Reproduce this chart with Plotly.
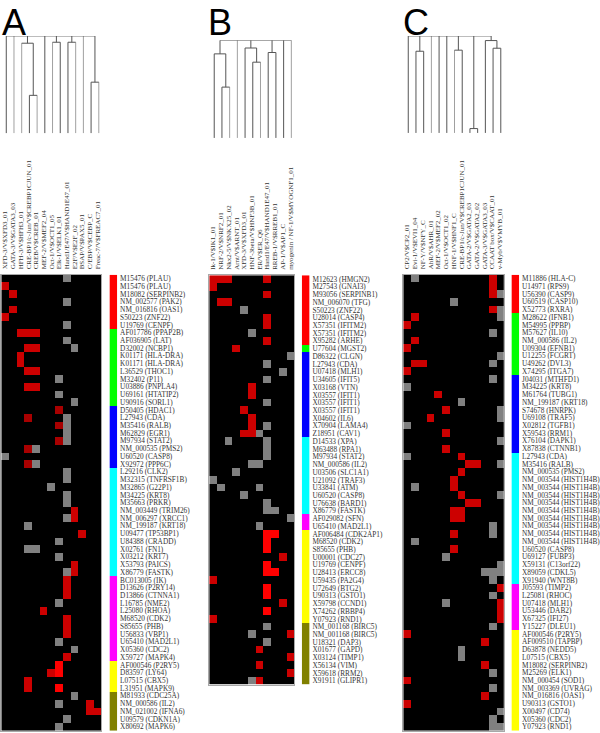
import plotly.graph_objects as go

W, H = 600, 733

GROUP_COLORS = ["#ff0000", "#00ff00", "#0000ff", "#00ffff", "#ff00ff", "#ffff00", "#808000"]
# cell codes: 0 none, 1 gray, 2 red, 3 bright red, 4 dark red
CELL_COLORS = ["#000000", "#808080", "#cc0000", "#ff0000", "#a80000"]

A_columns = ["XFD-3/V$XFD3_01", "GATA-3/V$GATA3_03", "HFH-3/V$HFH3_01", "CRE-BP1/c-Jun/V$CREBP1CJUN_01",
             "CREB/V$CREB_01", "MEF-2/V$MEF2_04", "Oct-1/V$OCT1_05", "Elk-1/V$ELK1_01",
             "Hand1/E47/V$HAND1E47_01", "E2F/V$E2F_02", "BSAP/V$PAX5_01", "C/EBP/V$CEBP_C", "Freac-7/V$FREAC7_01"]
A_genes = ["M15476 (PLAU)", "M15476 (PLAU)", "M18082 (SERPINB2)", "NM_002577 (PAK2)", "NM_016816 (OAS1)", "S50223 (ZNF22)", "U19769 (CENPF)",
           "AF017786 (PPAP2B)", "AF036905 (LAT)", "D32002 (NCBP1)", "K01171 (HLA-DRA)", "K01171 (HLA-DRA)", "L36529 (THOC1)", "M32402 (P11)", "U03886 (PNPLA4)", "U69161 (HTATIP2)", "U90916 (SORL1)",
           "D50405 (HDAC1)", "L27943 (CDA)", "M35416 (RALB)", "M62829 (EGR1)", "M97934 (STAT2)", "NM_000535 (PMS2)", "U60520 (CASP8)", "X92972 (PPP6C)",
           "L29216 (CLK2)", "M32315 (TNFRSF1B)", "M32865 (G22P1)", "M34225 (KRT8)", "M35663 (PRKR)", "NM_003449 (TRIM26)", "NM_006297 (XRCC1)", "NM_199187 (KRT18)", "U09477 (TP53BP1)", "U84388 (CRADD)", "X02761 (FN1)", "X03212 (KRT7)", "X53793 (PAICS)", "X86779 (FASTK)",
           "BC013005 (IK)", "D13626 (P2RY14)", "D13866 (CTNNA1)", "L16785 (NME2)", "L25080 (RHOA)", "M68520 (CDK2)", "S85655 (PHB)", "U56833 (VBP1)", "U65410 (MAD2L1)", "X05360 (CDC2)", "X59727 (MAPK4)",
           "AF000546 (P2RY5)", "D83597 (LY64)", "L07515 (CBX5)", "L31951 (MAPK9)",
           "M81933 (CDC25A)", "NM_000586 (IL2)", "NM_021002 (IFNA6)", "U09579 (CDKN1A)", "X80692 (MAPK6)"]
A_group_sizes = [7, 10, 8, 14, 11, 4, 5]
A_cells = ["0000000010000", "2000000000000", "0200000000000", "0000000010000", "0200000000000", "2000000000000",
           "0000000010000", "0022200000000", "0000000010000", "0002200001000", "0020000000000", "0020000000000",
           "0002200000000", "0000000100000", "0002200000000", "0000000100000", "0000000001000", "0000000400000",
           "0004000010000", "0000000410000", "0000000010000", "0000000410000", "0004100000000", "1000000000000",
           "0004100000000", "0000000010000", "0000000010000", "0000001000000", "0000000010000", "0000000010000",
           "0000000002000", "0000000012000", "0001000000000", "0000000000200", "0000000100000", "0001100000000",
           "0000000100000", "0000000002000", "0000000012000", "0000000020000", "0000000020000", "0000000020000",
           "0000000100000", "0000020000000", "0000000020000", "0000000020000", "0000000020000", "0000000100000",
           "0000000001000", "0000000020000", "0000000300000", "0000002300000", "0002000000000", "0002000300000",
           "0000000001000", "0000000100020", "0000000000022", "0000000010000", "0000000100000"]
# merges: (child, child, height); new nodes numbered after the leaves; unmerged nodes hang from the root
A_merges = [(3, 4, 39), (2, 13, 92.5), (6, 7, 93.5), (8, 9, 93.5), (11, 12, 52.5)]
A_gray_leaves = [1, 2, 4, 6, 9, 10, 12]

B_columns = ["Ik-1/V$IK1_01", "NRF-2/V$NRF2_01", "Nkx2-5/V$NKX25_02", "Arnt/V$ARNT_01", "XFD-3/V$XFD3_01",
             "HNF-3beta/V$HNF3B_01", "ER/V$ER_Q6", "Hand1/E47/V$HAND1E47_01", "RREB-1/V$RREB1_01", "AP-1/V$AP1_C",
             "myogenin / NF-1/V$MYOGNF1_01"]
B_genes = ["M12623 (HMGN2)", "M27543 (GNAI3)", "M93056 (SERPINB1)", "NM_006070 (TFG)", "S50223 (ZNF22)", "U28014 (CASP4)", "X57351 (IFITM2)", "X57351 (IFITM2)", "X95282 (ARHE)",
           "U77604 (MGST2)",
           "D86322 (CLGN)", "L27943 (CDA)", "U07418 (MLH1)", "U34605 (IFIT5)", "X03168 (VTN)", "X03557 (IFIT1)", "X03557 (IFIT1)", "X03557 (IFIT1)", "X04602 (IL6)", "X70904 (LAMA4)", "Z18951 (CAV1)",
           "D14533 (XPA)", "M63488 (RPA1)", "M97934 (STAT2)", "NM_000586 (IL2)", "U03506 (SLC1A1)", "U21092 (TRAF3)", "U33841 (ATM)", "U60520 (CASP8)", "U76638 (BARD1)", "X86779 (FASTK)",
           "AF029082 (SFN)", "U65410 (MAD2L1)",
           "AF006484 (CDK2AP1)", "M68520 (CDK2)", "S85655 (PHB)", "U00001 (CDC27)", "U19769 (CENPF)", "U28413 (ERCC8)", "U59435 (PA2G4)", "U72649 (BTG2)", "U90313 (GSTO1)", "X59798 (CCND1)", "X74262 (RBBP4)", "Y07923 (RND1)",
           "NM_001168 (BIRC5)", "NM_001168 (BIRC5)", "U18321 (DAP3)", "X01677 (GAPD)", "X03124 (TIMP1)", "X56134 (VIM)", "X59618 (RRM2)", "X91911 (GLIPR1)"]
B_group_sizes = [9, 1, 11, 10, 2, 12, 8]
B_cells = ["22200002000", "20000000000", "00000002000", "02200000000", "00001000000", "00000002000", "00000002000",
           "00000100000", "00000002000", "00020000000", "00000000001", "00000001000", "00000000010", "00000001000",
           "00000200000", "00000200000", "00000001000", "00002000000", "00000200000", "00000201000", "00002210000",
           "00100001000", "00000001000", "00000001000", "00000110000", "00010000000", "10000000000", "01000010000",
           "00001000000", "00000001000", "00000001100", "00000000001", "00000010000", "00000003300", "00000003000",
           "00000003000", "00000000020", "00000003000", "00000003300", "20000000000", "00000003000", "00000003000",
           "00000000020", "00000003000", "20000000000", "00000001000", "00000100002", "00000001000", "00000020000",
           "00000000002", "00000020000", "00000000002", "00000120000"]
B_merges = [(1, 2, 52), (0, 11, 86), (5, 6, 77.5), (4, 13, 92), (7, 8, 87.4)]
B_gray_leaves = [2, 3, 6, 10]

C_columns = ["CP2/V$CP2_01", "Evi-1/V$EVI1_04", "NF-Y/V$NFY_C", "AhR/V$AHR_01", "MEF-2/V$MEF2_02", "Oct-1/V$OCT1_02",
             "HNF-1/V$HNF1_C", "CRE-BP1/c-Jun/V$CREBP1CJUN_01", "GATA-2/V$GATA2_03", "GATA-2/V$GATA2_02",
             "GATA-3/V$GATA3_03", "CCAAT box/V$CAAT_01", "v-Myb/V$VMYB_01"]
C_genes = ["M11886 (HLA-C)", "U14971 (RPS9)", "U56390 (CASP9)", "U60519 (CASP10)", "X52773 (RXRA)",
           "M28622 (IFNB1)", "M54995 (PPBP)", "M57627 (IL10)", "NM_000586 (IL2)", "U09304 (EFNB1)", "U12255 (FCGRT)", "U49262 (DVL3)", "X74295 (ITGA7)",
           "J04031 (MTHFD1)", "M34225 (KRT8)", "M61764 (TUBG1)", "NM_199187 (KRT18)", "S74678 (HNRPK)", "U69108 (TRAF5)", "X02812 (TGFB1)", "X59543 (RRM1)", "X76104 (DAPK1)", "X87838 (CTNNB1)",
           "L27943 (CDA)", "M35416 (RALB)", "NM_000535 (PMS2)"] + ["NM_003544 (HIST1H4B)"] * 9 + [
           "U60520 (CASP8)", "U69127 (FUBP3)", "X59131 (C13orf22)", "X89059 (CDKL5)", "X91940 (WNT8B)",
           "J05593 (TIMP2)", "L25081 (RHOC)", "U07418 (MLH1)", "U53446 (DAB2)", "X67325 (IFI27)", "Y15227 (DLEU1)",
           "AF000546 (P2RY5)", "AF009510 (TAPBP)", "D63878 (NEDD5)", "L07515 (CBX5)", "M18082 (SERPINB2)", "M25269 (ELK1)", "NM_000454 (SOD1)", "NM_003369 (UVRAG)", "NM_016816 (OAS1)", "U90313 (GSTO1)", "X00497 (CD74)", "X05360 (CDC2)", "Y07923 (RND1)"]
C_group_sizes = [5, 8, 10, 17, 6, 13, 0]
C_cells = ["0100000000020", "0000000000020", "0000000000021", "0000001000000", "0000000000021", "0200000000001",
           "2000000000000", "0000000000010", "0200000000000", "2000000000000", "0000000000001", "0220000000010",
           "2000000000000", "0000000000010", "1000000000000", "0000200000000", "0000000100000", "0000020000001",
           "0002000000001", "1000000000000", "0000020000000", "0000000000001", "0000020000000", "1000000200000",
           "0000000022001", "0000000200000", "0000002000000", "0100002000000", "0000000200001", "0000000022000",
           "0000002200000", "0000002200000", "0000000000010", "0000002000010", "0100000000000", "0000002000000",
           "0000010000000", "0000000000001", "0000000000111", "0000000000010", "0000000000002", "0000000000010",
           "0000010000002", "0000000000002", "0000000000002", "0000000000010", "2000000000000", "0000000000200",
           "0000000100000", "0000000100000", "0000000000200", "0000000000010", "2000000000000", "0000000000010",
           "0000000000200", "2000000000000", "0000000000001", "0000000000010", "0000000000011"]
C_merges = [(1, 2, 84.2), (6, 7, 85.3), (8, 9, 4.5), (11, 12, 87.3), (10, 16, 95.2)]
C_gray_leaves = [3, 6]

PANELS = [
    dict(letter="A", cols=A_columns, genes=A_genes, sizes=A_group_sizes, cells=A_cells, merges=A_merges, gray=A_gray_leaves,
         heat=(1.3, 102), bar=(110, 117.7), top=274.5, bottom=731.7, dendro_x0=6.3, dendro=(35, 132.7), letter_x=1),
    dict(letter="B", cols=B_columns, genes=B_genes, sizes=B_group_sizes, cells=B_cells, merges=B_merges, gray=B_gray_leaves,
         heat=(210.3, 295.7), bar=(303.3, 311), top=275, bottom=685.5, dendro_x0=215.3, dendro=(39.3, 137.3), letter_x=208),
    dict(letter="C", cols=C_columns, genes=C_genes, sizes=C_group_sizes, cells=C_cells, merges=C_merges, gray=C_gray_leaves,
         heat=(405.3, 506.3), bar=(514, 521.7), top=274.5, bottom=731.7, dendro_x0=410.3, dendro=(35, 132.3), letter_x=404),
]
COL_W = 7.75


def dx(a, b):
    return [a / W, b / W]


def dy(top, bottom):
    return [1 - bottom / H, 1 - top / H]


def stepped(colors):
    n = len(colors)
    out = []
    for i, c in enumerate(colors):
        out += [[i / n, c], [(i + 1) / n, c]]
    return out


fig = go.Figure()
layout = dict(width=W, height=H, autosize=False, margin=dict(l=0, r=0, t=0, b=0),
              paper_bgcolor="white", plot_bgcolor="white", showlegend=False, annotations=[])
SERIF = "Liberation Serif"
TXT = "#333333"
ax = 1
for p in PANELS:
    n_c, n_r = len(p["cols"]), len(p["genes"])
    rows = list(range(n_r))
    # heat map
    z = [[int(ch) for ch in line] for line in p["cells"]]
    xa, ya = f"x{ax}", f"y{ax}"
    fig.add_trace(go.Heatmap(z=z, x=list(range(n_c)), y=rows, zmin=-0.5, zmax=4.5, showscale=False,
                             colorscale=stepped(CELL_COLORS), xaxis=xa, yaxis=ya, hoverinfo="skip"))
    layout[f"xaxis{ax}"] = dict(domain=dx(*p["heat"]), anchor=ya, range=[-0.5, n_c - 0.5], side="top",
                                tickmode="array", tickvals=list(range(n_c)), ticktext=p["cols"], tickangle=-90,
                                ticks="", ticklabelstandoff=3, tickfont=dict(family=SERIF, size=7, color=TXT),
                                showgrid=False, zeroline=False, showline=True, linecolor="#a8a8a8", linewidth=1, mirror=True)
    layout[f"yaxis{ax}"] = dict(domain=dy(p["top"], p["bottom"]), anchor=xa, range=[n_r - 0.5, -0.5],
                                showticklabels=False, ticks="", showgrid=False, zeroline=False,
                                showline=True, linecolor="#a8a8a8", linewidth=1, mirror=True)
    ax += 1
    # group colour bar with gene labels
    group_z = []
    for g, size in enumerate(p["sizes"]):
        group_z += [[g]] * size
    xa, ya = f"x{ax}", f"y{ax}"
    fig.add_trace(go.Heatmap(z=group_z, x=[0], y=rows, zmin=-0.5, zmax=6.5, showscale=False,
                             colorscale=stepped(GROUP_COLORS), xaxis=xa, yaxis=ya, hoverinfo="skip"))
    layout[f"xaxis{ax}"] = dict(domain=dx(*p["bar"]), anchor=ya, range=[-0.5, 0.5], visible=False)
    layout[f"yaxis{ax}"] = dict(domain=dy(p["top"], p["bottom"]), anchor=xa, range=[n_r - 0.5, -0.5], side="right",
                                tickmode="array", tickvals=rows, ticktext=p["genes"], ticks="", ticklabelstandoff=2,
                                tickfont=dict(family=SERIF, size=7.3, color=TXT), showgrid=False, zeroline=False, showline=False)
    ax += 1
    # dendrogram
    pos = {i: (i, 0) for i in range(n_c)}
    dark_x, dark_y, gray_x, gray_y = [], [], [], []
    def seg(xs, ys, gray=False):
        (gray_x if gray else dark_x).extend(list(xs) + [None])
        (gray_y if gray else dark_y).extend(list(ys) + [None])
    children = set()
    next_id = n_c
    for a, b, h in p["merges"]:
        for c in (a, b):
            children.add(c)
            seg([pos[c][0], pos[c][0]], [pos[c][1], h], c in p["gray"])
        seg([pos[a][0], pos[b][0]], [h, h])
        pos[next_id] = ((pos[a][0] + pos[b][0]) / 2, h)
        next_id += 1
    tops = [k for k in pos if k not in children]
    for k in tops:
        seg([pos[k][0], pos[k][0]], [pos[k][1], 100], k in p["gray"])
    seg([min(pos[k][0] for k in tops), max(pos[k][0] for k in tops)], [100, 100])
    xa, ya = f"x{ax}", f"y{ax}"
    for xs, ys, col in ((gray_x, gray_y, "#a0a0a0"), (dark_x, dark_y, "#555555")):
        fig.add_trace(go.Scatter(x=xs, y=ys, mode="lines", line=dict(color=col, width=1), xaxis=xa, yaxis=ya,
                                 hoverinfo="skip"))
    x0 = p["dendro_x0"]
    layout[f"xaxis{ax}"] = dict(domain=dx(x0 - COL_W / 2, x0 + COL_W * (n_c - 0.5)), anchor=ya,
                                range=[-0.5, n_c - 0.5], visible=False)
    layout[f"yaxis{ax}"] = dict(domain=dy(*p["dendro"]), anchor=xa, range=[0, 100], visible=False)
    ax += 1
    layout["annotations"].append(dict(text=p["letter"], xref="paper", yref="paper", x=p["letter_x"] / W, y=1,
                                      xanchor="left", yanchor="top", showarrow=False, borderpad=0,
                                      font=dict(family="Liberation Sans", size=36, color="black")))

fig.update_layout(**layout)
fig.write_html("out.html", config={"displayModeBar": False}, post_script="document.body.style.margin='0';")
